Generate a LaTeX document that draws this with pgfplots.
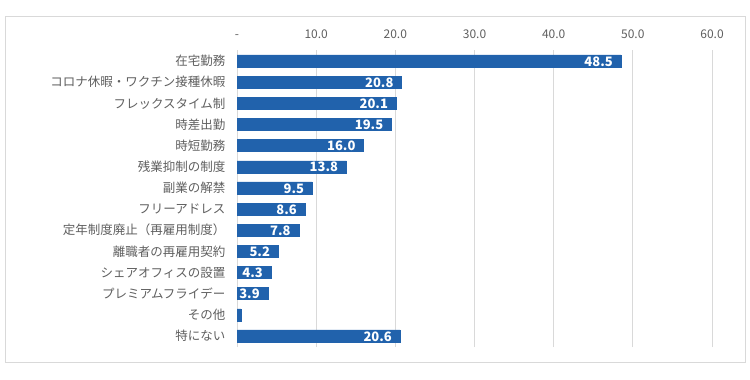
\documentclass[border=0pt]{standalone}
\usepackage{pgfplots}
\pgfplotsset{compat=1.18}
\usepackage{pgfplotstable}
\usepackage{fontspec}
\setmainfont{Noto Sans CJK JP}
\definecolor{barblue}{RGB}{33,98,172}
\definecolor{txtgray}{RGB}{95,95,95}
\definecolor{gridgray}{RGB}{217,217,217}
\pgfplotstableread{
y x lab
13 48.5 48.5
12 20.8 20.8
11 20.1 20.1
10 19.5 19.5
9 16.0 16.0
8 13.8 13.8
7 9.5 9.5
6 8.6 8.6
5 7.8 7.8
4 5.2 5.2
3 4.3 4.3
2 3.9 3.9
1 0.5 {}
0 20.6 20.6
}\datatable
\begin{document}
\begin{tikzpicture}
\path[use as bounding box] (0,0) rectangle (750bp,380bp);
\draw[gridgray, line width=0.75bp] (5bp,18bp) rectangle (745bp,364bp);
\begin{axis}[
  at={(237bp,33bp)}, anchor=south west,
  scale only axis, width=475bp, height=297bp,
  xmin=0, xmax=60, ymin=-0.52, ymax=13.52,
  xbar, bar width=12bp,
  axis line style={draw=none},
  major tick length=0pt,
  xtick={0,10,20,30,40,50,60},
  xticklabels={-,10.0,20.0,30.0,40.0,50.0,60.0},
  xticklabel pos=upper,
  xticklabel style={text=txtgray, font=\fontsize{12bp}{14bp}\selectfont, yshift=8bp},
  ytick={0,1,...,13},
  yticklabels={特にない,その他,プレミアムフライデー,シェアオフィスの設置,離職者の再雇用契約,定年制度廃止（再雇用制度）,フリーアドレス,副業の解禁,残業抑制の制度,時短勤務,時差出勤,フレックスタイム制,コロナ休暇・ワクチン接種休暇,在宅勤務},
  yticklabel style={text=txtgray, font=\fontsize{12.5bp}{14bp}\selectfont, xshift=-8bp},
  xmajorgrids, ymajorgrids=false,
  grid style={gridgray, line width=0.75bp},
  point meta=explicit symbolic,
  nodes near coords,
  every node near coord/.append style={anchor=east, inner sep=0pt, xshift=-8bp, yshift=-0.5bp, text=white, font=\bfseries\fontsize{13bp}{14bp}\selectfont},
]
\addplot[draw=barblue, fill=barblue] table[x=x, y=y, meta=lab] {\datatable};
\end{axis}
\end{tikzpicture}
\end{document}
